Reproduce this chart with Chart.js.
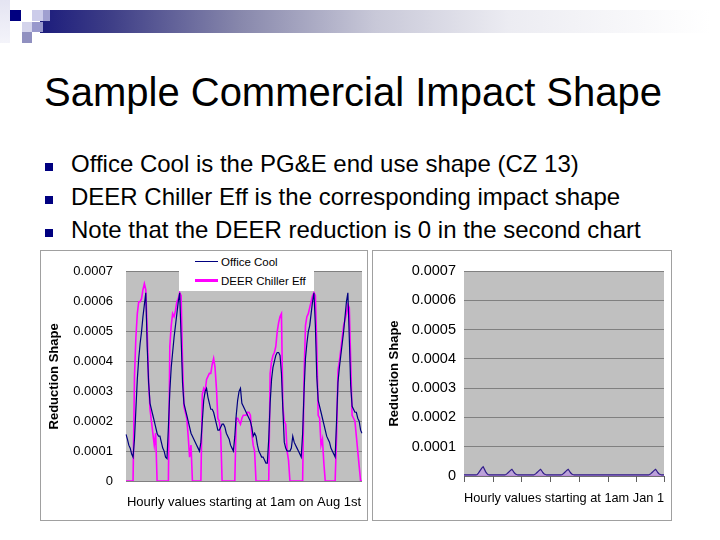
<!DOCTYPE html>
<html>
<head>
<meta charset="utf-8">
<title>Sample Commercial Impact Shape</title>
<script src="https://cdn.jsdelivr.net/npm/chart.js@4.4.1/dist/chart.umd.min.js"></script>
<style>
  html, body { margin: 0; padding: 0; }
  body { width: 720px; height: 540px; position: relative; overflow: hidden; background: #fff;
         font-family: "Liberation Sans", Arial, sans-serif; color: #000; }
  #bar { position: absolute; left: 40px; top: 10px; width: 670px; height: 23px;
         background: linear-gradient(to right, #1c1c7c 0%, #3c3c86 10%, #8888ac 30%, #c8c8d8 50%, #ececf2 70%, #ffffff 100%); }
  .sq { position: absolute; width: 11px; height: 11px; }
  #title { position: absolute; left: 44px; top: 72px; font-size: 40px; line-height: 40px; white-space: nowrap; }
  .bullet { position: absolute; left: 71px; font-size: 24px; line-height: 24px; white-space: nowrap; }
  .bullet:before { content: ''; position: absolute; left: -26px; top: 11px; width: 8px; height: 8px; background: #000080; }
  .frame { position: absolute; box-sizing: border-box; border: 1px solid #a0a0a0; background: #fff; }
  .frame canvas { display: block; }
  #legend { position: absolute; left: 179px; top: 252px; width: 135px; height: 39px; background: #fff; font-size: 11.5px; }
  #legend .key { position: absolute; left: 16px; width: 23px; }
  #legend .txt { position: absolute; left: 42px; line-height: 12px; white-space: nowrap; }
</style>
</head>
<body>
<div id="bar"></div>
<div class="sq" style="left:0;top:0;width:10px;height:43px;background:linear-gradient(#e4e4f2,#f4f4fa);"></div>
<div class="sq" style="left:10px;top:10px;background:#000080;"></div>
<div class="sq" style="left:32px;top:10px;background:#ccccea;"></div>
<div class="sq" style="left:43px;top:10px;width:7px;background:#a0a0d0;"></div>
<div class="sq" style="left:22px;top:22px;width:10px;height:10px;background:#d4d4ec;"></div>
<div class="sq" style="left:32px;top:22px;height:10px;background:#9898cc;"></div>
<div class="sq" style="left:22px;top:32px;width:10px;background:#9090c0;"></div>

<div id="title">Sample Commercial Impact Shape</div>
<div class="bullet" style="top:152px;">Office Cool is the PG&amp;E end use shape (CZ 13)</div>
<div class="bullet" style="top:185px;">DEER Chiller Eff is the corresponding impact shape</div>
<div class="bullet" style="top:218px;">Note that the DEER reduction is 0 in the second chart</div>

<div class="frame" style="left:40px;top:250px;width:328px;height:271px;">
  <canvas id="augChart" width="326" height="269"></canvas>
</div>
<div id="legend">
  <div class="key" style="top:9px;height:1.2px;background:#000080;"></div>
  <div class="txt" style="top:4px;">Office Cool</div>
  <div class="key" style="top:27px;height:3px;background:#ff00ff;"></div>
  <div class="txt" style="top:23px;">DEER Chiller Eff</div>
</div>
<div class="frame" style="left:372px;top:250px;width:300px;height:271px;">
  <canvas id="janChart" width="298" height="269"></canvas>
</div>

<script>
// hourly values, one row per day (24 hours starting at 1am)
var augOfficeCool = [
  0.000156, 0.00014, 0.00012, 0.00011, 0.00009, 0.00008, 0.00014, 0.00024, 0.00034, 0.00041, 0.00046, 0.0005, 0.00055, 0.00059, 0.00063, 0.00045, 0.00033, 0.00026, 0.00024, 0.00022, 0.0002, 0.00018, 0.00016, 0.00015,
  0.00015, 0.00013, 0.00011, 0.0001, 0.00008, 0.000075, 0.00018, 0.0003, 0.00038, 0.00043, 0.00048, 0.00052, 0.00056, 0.0006, 0.00063, 0.00048, 0.00033, 0.00026, 0.00024, 0.00022, 0.0002, 0.00018, 0.00016, 0.00015,
  0.00014, 0.00013, 0.00012, 0.00011, 0.0001, 0.00013, 0.0002, 0.00027, 0.0003, 0.00031, 0.00028, 0.00026, 0.00024, 0.00024, 0.00023, 0.00021, 0.00019, 0.00017, 0.00017, 0.00018, 0.00019, 0.00019, 0.00018, 0.00016,
  0.00015, 0.00014, 0.00012, 0.00011, 0.0001, 0.00015, 0.00022, 0.00027, 0.0003, 0.00031, 0.00026, 0.00025, 0.00024, 0.00023, 0.00022, 0.00021, 0.0002, 0.00018, 0.00015, 0.00016, 0.00015, 0.00012, 0.0001, 0.00009,
  0.00008, 0.00008, 0.00007, 0.00006, 0.00006, 0.00014, 0.00026, 0.00034, 0.00038, 0.0004, 0.00042, 0.00043, 0.00043, 0.00042, 0.00036, 0.00024, 0.00013, 0.00011, 0.0001, 0.0001, 0.0001, 0.00011, 0.00015, 0.00013,
  0.00012, 0.00011, 0.0001, 0.00009, 0.00008, 0.00016, 0.0003, 0.00041, 0.00046, 0.0005, 0.00052, 0.00056, 0.0006, 0.00063, 0.00052, 0.00035, 0.00027, 0.00025, 0.00023, 0.00021, 0.00019, 0.00017, 0.00015, 0.00014,
  0.00013, 0.00011, 0.0001, 0.00009, 0.00008, 0.0002, 0.00033, 0.00038, 0.00042, 0.00046, 0.0005, 0.00055, 0.0006, 0.00063, 0.00048, 0.00032, 0.00025, 0.00024, 0.00023, 0.00023, 0.00021, 0.0002, 0.00017, 0.00016
];

var augDeerChiller = [
  0, 0, 0, 0, 0, 0, 0.00035, 0.00048, 0.00056, 0.0006, 0.0006, 0.00061, 0.00064, 0.00066, 0.00064, 0.0005, 0.00033, 0.00024, 0.0002, 0.00016, 0.00012, 0.00016, 0, 0,
  0, 0, 0, 0, 0, 0, 0, 0.00045, 0.00052, 0.00056, 0.00055, 0.00057, 0.0006, 0.00061, 0.00063, 0.00062, 0.0004, 0.00025, 0.00023, 0.00021, 0.00015, 0.00008, 0.00012, 0,
  0, 0, 0, 0, 0, 0, 0.00029, 0.00031, 0.0003, 0.00034, 0.00035, 0.00036, 0.00036, 0.00039, 0.00041, 0.00038, 0.00031, 0.00021, 0.0002, 0.00016, 0, 0, 0, 0,
  0, 0, 0, 0, 0, 0, 0.00021, 0.00021, 0.0002, 0.00019, 0.00021, 0.00022, 0.00022, 0.00022, 0.00023, 0.00023, 0.00022, 0.00016, 0.00012, 0.0001, 0, 0, 0, 0,
  0, 0, 0, 0, 0, 0, 0.00036, 0.0004, 0.00042, 0.00043, 0.00045, 0.0005, 0.00053, 0.00055, 0.00056, 0.00025, 0.0002, 0.00019, 0.0001, 0.00007, 0, 0, 0, 0,
  0, 0, 0, 0, 0, 0, 0.00035, 0.00052, 0.00055, 0.00056, 0.00058, 0.0006, 0.00062, 0.00063, 0.00062, 0.00045, 0.00022, 0.00021, 0.00012, 0.00014, 0.00006, 0, 0, 0,
  0, 0, 0, 0, 0, 0.00015, 0.00037, 0.0004, 0.00044, 0.00048, 0.00052, 0.00054, 0.00056, 0.00059, 0.00058, 0.0004, 0.00022, 0.00021, 0.0002, 0.00015, 0.0001, 0.00005, 0, 0
];

var janOfficeCool = [
  0.000004, 0.000004, 0.000004, 0.000004, 0.000004, 0.000004, 0.000004, 0.000004, 0.000004, 0.000004, 0.000004, 0.000005, 0.00001, 0.000016, 0.000022, 0.000028, 0.000032, 0.000024, 0.000015, 0.000009, 0.000005, 0.000004, 0.000004, 0.000004,
  0.000004, 0.000004, 0.000004, 0.000004, 0.000004, 0.000004, 0.000004, 0.000004, 0.000004, 0.000004, 0.000004, 0.000005, 0.000008, 0.000012, 0.000016, 0.00002, 0.000023, 0.000017, 0.000011, 0.000007, 0.000005, 0.000004, 0.000004, 0.000004,
  0.000004, 0.000004, 0.000004, 0.000004, 0.000004, 0.000004, 0.000004, 0.000004, 0.000004, 0.000004, 0.000004, 0.000005, 0.000008, 0.000012, 0.000016, 0.00002, 0.000023, 0.000017, 0.000011, 0.000007, 0.000005, 0.000004, 0.000004, 0.000004,
  0.000004, 0.000004, 0.000004, 0.000004, 0.000004, 0.000004, 0.000004, 0.000004, 0.000004, 0.000004, 0.000005, 0.000008, 0.000012, 0.000016, 0.00002, 0.000023, 0.000017, 0.000011, 0.000007, 0.000005, 0.000004, 0.000004, 0.000004, 0.000004,
  0.000004, 0.000004, 0.000004, 0.000004, 0.000004, 0.000004, 0.000004, 0.000004, 0.000004, 0.000004, 0.000004, 0.000004, 0.000004, 0.000004, 0.000004, 0.000004, 0.000004, 0.000004, 0.000004, 0.000004, 0.000004, 0.000004, 0.000004, 0.000004,
  0.000004, 0.000004, 0.000004, 0.000004, 0.000004, 0.000004, 0.000004, 0.000004, 0.000004, 0.000004, 0.000004, 0.000004, 0.000004, 0.000004, 0.000004, 0.000004, 0.000004, 0.000004, 0.000004, 0.000004, 0.000004, 0.000004, 0.000004, 0.000004,
  0.000004, 0.000004, 0.000004, 0.000004, 0.000004, 0.000004, 0.000004, 0.000004, 0.000004, 0.000004, 0.000004, 0.000005, 0.000008, 0.000012, 0.000016, 0.00002, 0.000023, 0.000017, 0.000011, 0.000007, 0.000005, 0.000004, 0.000004, 0.000004
];

var janDeerChiller = [
  0, 0, 0, 0, 0, 0, 0, 0, 0, 0, 0, 0, 0, 0, 0, 0, 0, 0, 0, 0, 0, 0, 0, 0,
  0, 0, 0, 0, 0, 0, 0, 0, 0, 0, 0, 0, 0, 0, 0, 0, 0, 0, 0, 0, 0, 0, 0, 0,
  0, 0, 0, 0, 0, 0, 0, 0, 0, 0, 0, 0, 0, 0, 0, 0, 0, 0, 0, 0, 0, 0, 0, 0,
  0, 0, 0, 0, 0, 0, 0, 0, 0, 0, 0, 0, 0, 0, 0, 0, 0, 0, 0, 0, 0, 0, 0, 0,
  0, 0, 0, 0, 0, 0, 0, 0, 0, 0, 0, 0, 0, 0, 0, 0, 0, 0, 0, 0, 0, 0, 0, 0,
  0, 0, 0, 0, 0, 0, 0, 0, 0, 0, 0, 0, 0, 0, 0, 0, 0, 0, 0, 0, 0, 0, 0, 0,
  0, 0, 0, 0, 0, 0, 0, 0, 0, 0, 0, 0, 0, 0, 0, 0, 0, 0, 0, 0, 0, 0, 0, 0
];

var yMax = 0.0007;
var yStep = 0.0001;
var hoursPerDay = 24;

var hours = [];
for (var h = 1; h <= augOfficeCool.length; h++) {
  hours.push(h);
}

Chart.defaults.font.family = '"Liberation Sans", Arial, sans-serif';
Chart.defaults.color = '#000';

// grey plot area like the spreadsheet default
var plotBackground = {
  id: 'plotBackground',
  beforeDraw: function (chart) {
    var a = chart.chartArea;
    var ctx = chart.ctx;
    ctx.save();
    ctx.fillStyle = '#c0c0c0';
    ctx.fillRect(a.left, a.top, a.right - a.left, a.bottom - a.top);
    ctx.restore();
  }
};

// small tick marks under the x axis, one per day
var dayTicks = {
  id: 'dayTicks',
  afterDraw: function (chart) {
    var xs = chart.scales.x;
    var ctx = chart.ctx;
    var y0 = chart.chartArea.bottom;
    ctx.save();
    ctx.strokeStyle = '#606060';
    ctx.lineWidth = 1;
    for (var i = 0; i < hours.length; i++) {
      if (i % hoursPerDay === 0 || i === hours.length - 1) {
        var px = Math.round(xs.getPixelForValue(i)) + 0.5;
        ctx.beginPath();
        ctx.moveTo(px, y0);
        ctx.lineTo(px, y0 + 6);
        ctx.stroke();
      }
    }
    ctx.restore();
  }
};

function buildOptions(s) {
  return {
    responsive: false,
    animation: false,
    layout: { padding: { left: 0, right: s.padRight, top: 20, bottom: 0 } },
    plugins: { legend: { display: false }, tooltip: { enabled: false } },
    elements: { point: { radius: 0 }, line: { tension: 0 } },
    scales: {
      x: {
        ticks: { display: false },
        grid: { display: false },
        border: { display: s.xLine, color: '#707070' },
        title: { display: true, text: s.xTitle, font: { size: 13 }, padding: { top: 0, bottom: s.xTitlePad } },
        afterFit: function (scale) { scale.height = s.xHeight; }
      },
      y: {
        min: 0,
        max: yMax,
        ticks: {
          stepSize: yStep,
          font: { size: s.tickSize },
          padding: s.tickPad,
          callback: function (v) { return v === 0 ? '0' : v.toFixed(4); }
        },
        grid: { color: '#808080', drawTicks: false },
        border: { display: false },
        title: { display: true, text: 'Reduction Shape', font: { size: 13, weight: 'bold' }, padding: { top: s.yTitlePad, bottom: 0 } },
        afterFit: function (scale) { scale.width = s.yWidth; }
      }
    }
  };
}

document.addEventListener("DOMContentLoaded", function () {
  new Chart(document.getElementById("augChart"), {
    type: "line",
    data: {
      labels: hours,
      datasets: [
        { label: "Office Cool", data: augOfficeCool, borderColor: "#000080", borderWidth: 1.2, fill: false },
        { label: "DEER Chiller Eff", data: augDeerChiller, borderColor: "#ff00ff", borderWidth: 1.6, fill: false }
      ]
    },
    options: buildOptions({
      padRight: 5, xHeight: 39, yWidth: 85, tickSize: 13, tickPad: 13, yTitlePad: 6,
      xLine: false, xTitle: "Hourly values starting at 1am on Aug 1st", xTitlePad: 10
    }),
    plugins: [plotBackground]
  });

  new Chart(document.getElementById("janChart"), {
    type: "line",
    data: {
      labels: hours,
      datasets: [
        { label: "Office Cool", data: janOfficeCool, borderColor: "#301c88", borderWidth: 1.2,
          fill: "origin", backgroundColor: "rgba(186,156,220,0.85)" },
        { label: "DEER Chiller Eff", data: janDeerChiller, borderColor: "rgba(200,0,220,0.6)", borderWidth: 1.8, fill: false }
      ]
    },
    options: buildOptions({
      padRight: 7, xHeight: 44, yWidth: 91, tickSize: 14.5, tickPad: 8, yTitlePad: 14,
      xLine: true, xTitle: "Hourly values starting at 1am Jan 1", xTitlePad: 14
    }),
    plugins: [plotBackground, dayTicks]
  });
});
</script>
</body>
</html>
